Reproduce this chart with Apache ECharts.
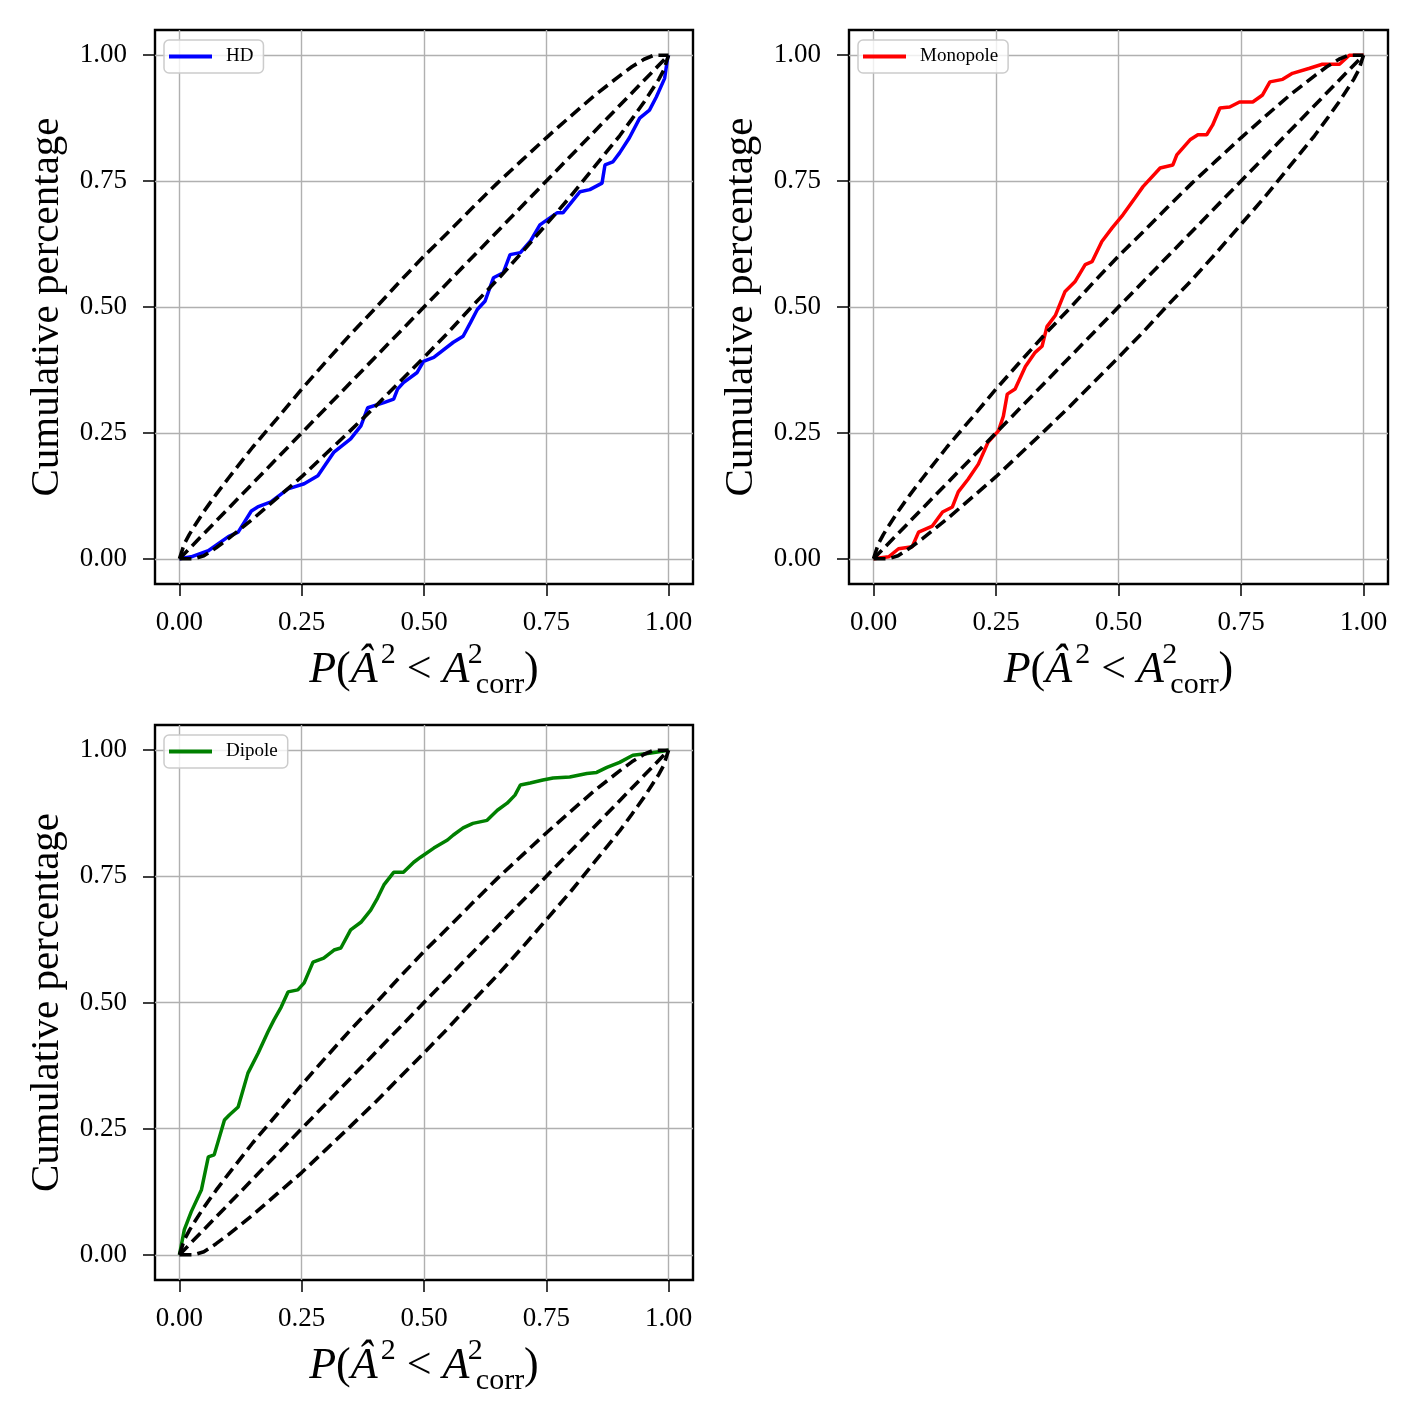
<!DOCTYPE html>
<html>
<head>
<meta charset="utf-8">
<script src="https://cdn.jsdelivr.net/npm/echarts@6/dist/echarts.min.js"></script>
<style>
html,body{margin:0;padding:0;background:#fff;}
#chart{width:1420px;height:1420px;}
</style>
</head>
<body>
<div id="chart"></div>
<script>
// ---- data ----
const tickValues = [0, 0.25, 0.5, 0.75, 1];
const seriesNames = ['HD', 'Monopole', 'Dipole'];
const seriesColors = ['#0000ff', '#ff0000', '#008000'];

const diagX = [0, 1];
const diagY = [0, 1];

const bandX = [0, 0.01, 0.02, 0.03, 0.05, 0.075, 0.1, 0.15, 0.2, 0.25, 0.3, 0.35, 0.4, 0.45, 0.5, 0.55, 0.6, 0.65, 0.7, 0.75, 0.8, 0.85, 0.9, 0.925, 0.95, 0.97, 0.98, 0.99, 1.0];
const bandUpper = [0, 0.03, 0.048, 0.064, 0.094, 0.128, 0.16, 0.222, 0.279, 0.337, 0.392, 0.446, 0.497, 0.55, 0.601, 0.649, 0.698, 0.746, 0.791, 0.836, 0.879, 0.921, 0.959, 0.977, 0.992, 1.0, 1.0, 1.0, 1.0];
const bandLower = [0, 0, 0, 0, 0.006, 0.022, 0.04, 0.079, 0.121, 0.163, 0.209, 0.255, 0.302, 0.351, 0.4, 0.45, 0.503, 0.554, 0.608, 0.664, 0.72, 0.78, 0.84, 0.873, 0.907, 0.937, 0.952, 0.97, 1.0];

const hdX = [0, 0.024, 0.059, 0.10, 0.12, 0.147, 0.16, 0.187, 0.222, 0.255, 0.283, 0.316, 0.35, 0.371, 0.385, 0.418, 0.438, 0.446, 0.458, 0.486, 0.499, 0.52, 0.56, 0.58, 0.595, 0.609, 0.625, 0.642, 0.662, 0.676, 0.697, 0.717, 0.737, 0.772, 0.784, 0.819, 0.839, 0.864, 0.87, 0.886, 0.90, 0.92, 0.941, 0.961, 0.975, 0.992, 0.998, 1.0];
const hdY = [0, 0.004, 0.016, 0.044, 0.053, 0.095, 0.103, 0.113, 0.139, 0.149, 0.165, 0.212, 0.238, 0.264, 0.30, 0.31, 0.317, 0.337, 0.35, 0.37, 0.392, 0.40, 0.43, 0.442, 0.469, 0.495, 0.512, 0.558, 0.568, 0.604, 0.608, 0.63, 0.663, 0.687, 0.687, 0.729, 0.733, 0.746, 0.782, 0.788, 0.806, 0.836, 0.875, 0.891, 0.917, 0.954, 0.994, 1.0];

const monoX = [0, 0.031, 0.051, 0.079, 0.092, 0.12, 0.141, 0.161, 0.173, 0.193, 0.214, 0.234, 0.255, 0.265, 0.273, 0.289, 0.31, 0.33, 0.344, 0.354, 0.371, 0.391, 0.411, 0.432, 0.446, 0.466, 0.487, 0.509, 0.534, 0.55, 0.585, 0.611, 0.619, 0.646, 0.662, 0.68, 0.692, 0.707, 0.727, 0.747, 0.774, 0.794, 0.809, 0.835, 0.855, 0.89, 0.916, 0.951, 0.971, 1.0];
const monoY = [0, 0.004, 0.02, 0.024, 0.053, 0.065, 0.093, 0.103, 0.133, 0.158, 0.188, 0.232, 0.254, 0.283, 0.327, 0.337, 0.382, 0.41, 0.422, 0.461, 0.483, 0.531, 0.55, 0.584, 0.59, 0.63, 0.657, 0.683, 0.717, 0.739, 0.776, 0.782, 0.802, 0.832, 0.842, 0.842, 0.861, 0.895, 0.897, 0.907, 0.907, 0.921, 0.947, 0.952, 0.964, 0.974, 0.982, 0.982, 1.0, 1.0];

const dipX = [0, 0.01, 0.024, 0.045, 0.059, 0.071, 0.092, 0.102, 0.12, 0.14, 0.161, 0.181, 0.193, 0.208, 0.222, 0.242, 0.255, 0.273, 0.295, 0.316, 0.33, 0.35, 0.371, 0.391, 0.405, 0.418, 0.438, 0.458, 0.479, 0.493, 0.52, 0.548, 0.56, 0.58, 0.60, 0.629, 0.65, 0.67, 0.686, 0.697, 0.717, 0.743, 0.764, 0.798, 0.833, 0.853, 0.874, 0.90, 0.927, 0.961, 1.0];
const dipY = [0, 0.05, 0.085, 0.129, 0.194, 0.198, 0.267, 0.277, 0.293, 0.36, 0.40, 0.442, 0.465, 0.491, 0.521, 0.525, 0.539, 0.58, 0.588, 0.604, 0.608, 0.644, 0.659, 0.683, 0.707, 0.733, 0.758, 0.758, 0.778, 0.788, 0.806, 0.822, 0.832, 0.846, 0.855, 0.861, 0.881, 0.895, 0.911, 0.931, 0.935, 0.941, 0.945, 0.947, 0.954, 0.956, 0.966, 0.976, 0.99, 0.994, 1.0];

const curveX = [hdX, monoX, dipX];
const curveY = [hdY, monoY, dipY];

// ---- layout ----
const FONT = 'Liberation Serif';
const grids = [
  {left: 155, top: 30, width: 538, height: 554},
  {left: 849, top: 30, width: 539, height: 554},
  {left: 155, top: 725, width: 538, height: 555}
];
const legendPos = [
  {left: 164, top: 40},
  {left: 858, top: 40},
  {left: 164, top: 735}
];

function zip(xs, ys) { return xs.map((x, i) => [x, ys[i]]); }

const xName = '{i|P}{n|(}{i|Â}{sp1| }{sup|2}{n| < }{i|A}{sp| }{sup0|2}{sub|corr}{n|)}';
const richName = {
  i: {fontFamily: FONT, fontStyle: 'italic', fontSize: 44, lineHeight: 60, color: '#000'},
  n: {fontFamily: FONT, fontSize: 44, lineHeight: 60, color: '#000'},
  sp: {fontFamily: FONT, fontSize: 22, lineHeight: 60, color: '#000'},
  sp1: {fontFamily: FONT, fontSize: 12, lineHeight: 60, color: '#000'},
  sup: {fontFamily: FONT, fontSize: 30, lineHeight: 30, verticalAlign: 'top', color: '#000'},
  sup0: {fontFamily: FONT, fontSize: 30, lineHeight: 30, verticalAlign: 'top', width: 1, color: '#000'},
  sub: {fontFamily: FONT, fontSize: 30, lineHeight: 30, verticalAlign: 'bottom', color: '#000'}
};

const gridOpt = grids.map(g => Object.assign({show: true, borderColor: '#000', borderWidth: 2.4, backgroundColor: '#fff', containLabel: false}, g));

const commonAxis = (gi) => ({
  type: 'value', gridIndex: gi, min: -0.05, max: 1.05,
  axisLine: {show: false, onZero: false},
  axisTick: {show: true, inside: false, length: 12, customValues: tickValues, lineStyle: {color: '#000', width: 1.5}},
  axisLabel: {customValues: tickValues, formatter: v => v.toFixed(2), fontFamily: FONT, fontSize: 27, color: '#000', margin: 25},
  splitLine: {show: true, lineStyle: {color: '#b0b0b0', width: 1.4}}
});

const xAxes = grids.map((g, gi) => Object.assign(commonAxis(gi), {
  position: 'bottom',
  name: xName, nameLocation: 'middle', nameGap: 56,
  nameTextStyle: {rich: richName}
}));
const yAxes = grids.map((g, gi) => {
  const a = commonAxis(gi);
  a.axisLabel.margin = 28;
  return Object.assign(a, {
    position: 'left',
    name: 'Cumulative percentage', nameLocation: 'middle', nameGap: 87,
    nameTextStyle: {fontFamily: FONT, fontSize: 41, color: '#000'}
  });
});

const series = [];
for (let gi = 0; gi < 3; gi++) {
  series.push({
    name: seriesNames[gi], type: 'line', xAxisIndex: gi, yAxisIndex: gi,
    data: zip(curveX[gi], curveY[gi]), symbol: 'none', showSymbol: false,
    lineStyle: {color: seriesColors[gi], width: 3.5}, itemStyle: {color: seriesColors[gi]},
    z: 2, animation: false
  });
  const dashed = {color: '#000', width: 3.6, type: [12, 6]};
  [[diagX, diagY], [bandX, bandUpper], [bandX, bandLower]].forEach((pair, k) => {
    series.push({
      name: 'ref' + gi + '_' + k, type: 'line', xAxisIndex: gi, yAxisIndex: gi,
      data: zip(pair[0], pair[1]), symbol: 'none', showSymbol: false,
      lineStyle: dashed, itemStyle: {color: '#000'}, z: 3, animation: false, silent: true
    });
  });
}

const legends = legendPos.map((p, gi) => ({
  data: [seriesNames[gi]], left: p.left, top: p.top, orient: 'horizontal',
  icon: 'rect', itemWidth: 43, itemHeight: 3.8, padding: [7, 10, 7, 5],
  borderColor: '#cccccc', borderWidth: 1.5, borderRadius: 5,
  backgroundColor: 'rgba(255,255,255,0.8)',
  textStyle: {fontFamily: FONT, fontSize: 19, color: '#000', padding: [0, 0, 0, 9]},
  selectedMode: false
}));

const chart = echarts.init(document.getElementById('chart'), null, {renderer: 'canvas'});
chart.setOption({
  backgroundColor: '#fff',
  animation: false,
  grid: gridOpt,
  xAxis: xAxes,
  yAxis: yAxes,
  legend: legends,
  series: series
});
</script>
</body>
</html>
